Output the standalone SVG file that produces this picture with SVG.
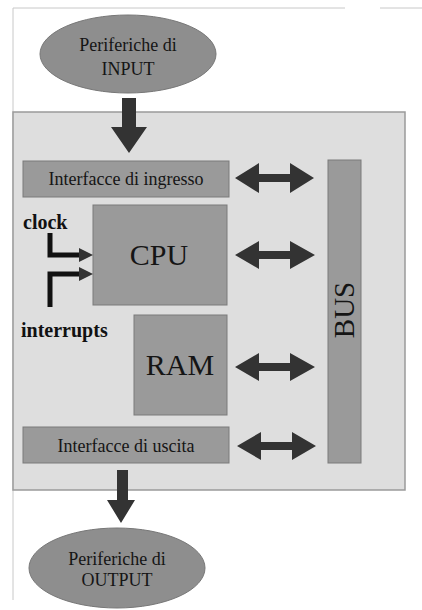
<svg xmlns="http://www.w3.org/2000/svg" width="422" height="610" viewBox="0 0 422 610">
<style>
.el{fill:#8e8e8e;stroke:#777;stroke-width:1}
.box{fill:#9a9a9a;stroke:#7a7a7a;stroke-width:1}
.t{font-family:"Liberation Serif",serif;fill:#151515;text-anchor:middle}
.b{font-family:"Liberation Serif",serif;font-weight:bold;fill:#111}
.arr{fill:#333}
.ln{fill:none;stroke:#111;stroke-width:5}
</style>
<rect width="422" height="610" fill="#fff"/>
<line x1="13" y1="8" x2="345" y2="8" stroke="#c8c8c8" stroke-width="1"/>
<line x1="380" y1="8" x2="422" y2="8" stroke="#c8c8c8" stroke-width="1"/>
<line x1="13" y1="8" x2="13" y2="600" stroke="#c8c8c8" stroke-width="1"/>
<rect id="system" x="13" y="112" width="392" height="378" fill="#dedede" stroke="#9a9a9a" stroke-width="1.5"/>
<g id="input">
<ellipse class="el" cx="128" cy="54" rx="88" ry="39"/>
<text class="t" x="128" y="51" font-size="18">Periferiche di</text>
<text class="t" x="128" y="75" font-size="18">INPUT</text>
</g>
<g id="ingresso">
<rect class="box" x="23" y="161" width="206" height="36"/>
<text class="t" x="126" y="185" font-size="18">Interfacce di ingresso</text>
</g>
<g id="cpu">
<rect class="box" x="93" y="205" width="134" height="100"/>
<text class="t" x="159" y="265" font-size="30">CPU</text>
</g>
<g id="ram">
<rect class="box" x="134" y="315" width="93" height="100"/>
<text class="t" x="180" y="375" font-size="30">RAM</text>
</g>
<g id="uscita">
<rect class="box" x="23" y="427" width="206" height="36"/>
<text class="t" x="126" y="452" font-size="18">Interfacce di uscita</text>
</g>
<g id="bus">
<rect class="box" x="328" y="160" width="33" height="303"/>
<text class="t" x="0" y="0" font-size="29" transform="translate(354,310) rotate(-90)">BUS</text>
</g>
<g id="output">
<ellipse class="el" cx="117" cy="568" rx="88" ry="40"/>
<text class="t" x="117" y="565" font-size="18">Periferiche di</text>
<text class="t" x="117" y="586" font-size="18">OUTPUT</text>
</g>
<g id="labels">
<text class="b" x="23" y="229" font-size="20">clock</text>
<text class="b" x="21" y="337" font-size="20">interrupts</text>
</g>
<g id="connectors">
<path class="arr" d="M122,98 H136 V127 H147 L129,153 L111,127 H122 Z"/>
<path class="arr" d="M117,470 H128 V500 H135 L121,523 L107,500 H117 Z"/>
<path class="arr" d="M235,178 L259,163 V174 H290 V163 L314,178 L290,193 V182 H259 V193 Z"/>
<path class="arr" d="M235,255 L259,241 V251 H290 V241 L315,255 L290,269 V259 H259 V269 Z"/>
<path class="arr" d="M235,367 L259,353 V363 H290 V353 L315,367 L290,381 V371 H259 V381 Z"/>
<path class="arr" d="M237,446 L261,432 V442 H292 V432 L316,446 L292,460 V450 H261 V460 Z"/>
<path class="ln" d="M50,233 V255 H80"/>
<path class="arr" d="M79,248 L93,255 L79,262 Z"/>
<path class="ln" d="M50,307 V274 H80"/>
<path class="arr" d="M79,267 L93,274 L79,281 Z"/>
</g>
</svg>
